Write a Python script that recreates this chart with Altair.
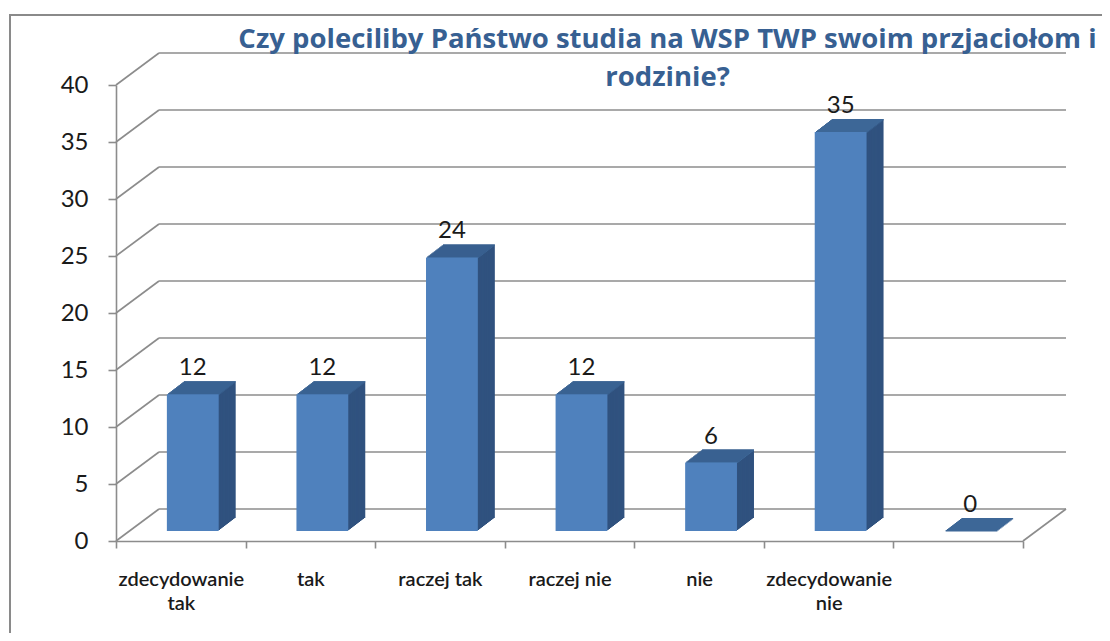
import altair as alt
import pandas as pd

# ---- data ----
categories = ["zdecydowanie\ntak", "tak", "raczej tak", "raczej nie", "nie", "zdecydowanie\nnie", ""]
values = [12, 12, 24, 12, 6, 35, 0]
y_ticks = [0, 5, 10, 15, 20, 25, 30, 35, 40]
title_lines = ["Czy poleciliby Państwo studia na WSP TWP swoim przjaciołom i", "rodzinie?"]

df = pd.DataFrame({"cat": categories, "val": values})
grid_df = pd.DataFrame({"val": y_ticks})
one_df = pd.DataFrame({"val": [0]})

# ---- layout / style ----
W, H = 907, 456
DEPTH_X, DEPTH_Y = 43, -32      # back wall offset
BAR_DX, BAR_DY = 12, -10        # bar front face offset (depth position)
EXT_X, EXT_Y = 17, -13          # bar extrusion
N = 13
BAR_BAND = 0.4
FRONT, TOP, SIDE = "#4F81BD", "#3D6797", "#30527F"
GRID = "#8c8c8c"
FONT = "Lato"

x_enc = alt.X(
    "cat:N",
    sort=categories,
    scale=alt.Scale(paddingInner=0, paddingOuter=0),
    axis=alt.Axis(
        title=None, labelAngle=0, tickBand="extent",
        labelExpr="split(datum.label, '\\n')",
        labelFont=FONT, labelFontSize=20, labelFontWeight=600,
        labelColor="#1a1a1a", labelPadding=21, labelLineHeight=24,
        domainColor=GRID, domainWidth=1.6, tickColor=GRID, tickWidth=1.6, tickSize=7,
    ),
)
y_enc = alt.Y(
    "val:Q",
    scale=alt.Scale(domain=[0, 40], nice=False, zero=True),
    axis=alt.Axis(
        title=None, values=y_ticks, grid=False,
        labelFont=FONT, labelFontSize=24, labelColor="#1a1a1a", labelPadding=20,
        domainColor=GRID, domainWidth=1.6, tickColor=GRID, tickWidth=1.6, tickSize=8,
    ),
)
bar_w = alt.RelativeBandSize(BAR_BAND)

layers = []

# outer frame
layers.append(alt.Chart(one_df).mark_rule(color="#8a8a8a", strokeWidth=2).encode(
    x=alt.value(-106), y=alt.value(-70), y2=alt.value(H + 100)))
layers.append(alt.Chart(one_df).mark_rule(color="#8a8a8a", strokeWidth=2).encode(
    x=alt.value(-107), x2=alt.value(W + 100), y=alt.value(-70)))

# back wall gridlines
layers.append(alt.Chart(grid_df).mark_rule(
    color=GRID, strokeWidth=1.6, xOffset=DEPTH_X, x2Offset=DEPTH_X,
    yOffset=DEPTH_Y, y2Offset=DEPTH_Y).encode(
    x=alt.value(0), x2=alt.value("width"), y=y_enc, y2=alt.Y2("val:Q")))
# left wall diagonals
layers.append(alt.Chart(grid_df).mark_rule(
    color=GRID, strokeWidth=1.6, x2Offset=DEPTH_X, y2Offset=DEPTH_Y).encode(
    x=alt.value(0), x2=alt.value(0), y=y_enc, y2=alt.Y2("val:Q")))
# floor right edge
layers.append(alt.Chart(one_df).mark_rule(
    color=GRID, strokeWidth=1.6, x2Offset=DEPTH_X, y2Offset=DEPTH_Y).encode(
    x=alt.value("width"), x2=alt.value("width"), y=y_enc, y2=alt.Y2("val:Q")))

# bars: extrusion copies from back to front
sy = -EXT_Y / N
for i in range(N, 0, -1):
    ox = BAR_DX + EXT_X * i / N
    oy = BAR_DY + EXT_Y * i / N
    layers.append(alt.Chart(df).mark_bar(
        color=SIDE, xOffset=ox, yOffset=oy, y2Offset=oy, width=bar_w).encode(
        x=x_enc, y=y_enc, y2=alt.datum(0)))
    layers.append(alt.Chart(df).mark_bar(
        color=TOP, xOffset=ox, yOffset=oy, y2Offset=oy + sy + 0.4, width=bar_w).encode(
        x=x_enc, y=y_enc, y2=alt.Y2("val:Q")))

# front face
layers.append(alt.Chart(df).mark_bar(
    color=FRONT, xOffset=BAR_DX, yOffset=BAR_DY, y2Offset=BAR_DY, width=bar_w).encode(
    x=x_enc, y=y_enc, y2=alt.datum(0)))

# value labels
layers.append(alt.Chart(df).mark_text(
    font=FONT, fontSize=24, color="#1a1a1a", baseline="alphabetic",
    dx=BAR_DX, dy=-29).encode(x=x_enc, y=y_enc, text=alt.Text("val:Q")))

chart = alt.layer(*layers).properties(
    width=W, height=H,
    autosize=alt.AutoSizeParams(type="none"),
    padding={"left": 108, "top": 77, "right": 79, "bottom": 92},
    title=alt.TitleParams(
        text=title_lines, font="Open Sans", fontSize=27.5, fontWeight="bold",
        color="#376092", anchor="middle", dx=98, offset=-77, lineHeight=38),
).configure(background="white", view=alt.ViewConfig(stroke=None))

chart.save("out.html", embed_options={"renderer": "svg", "actions": False})
